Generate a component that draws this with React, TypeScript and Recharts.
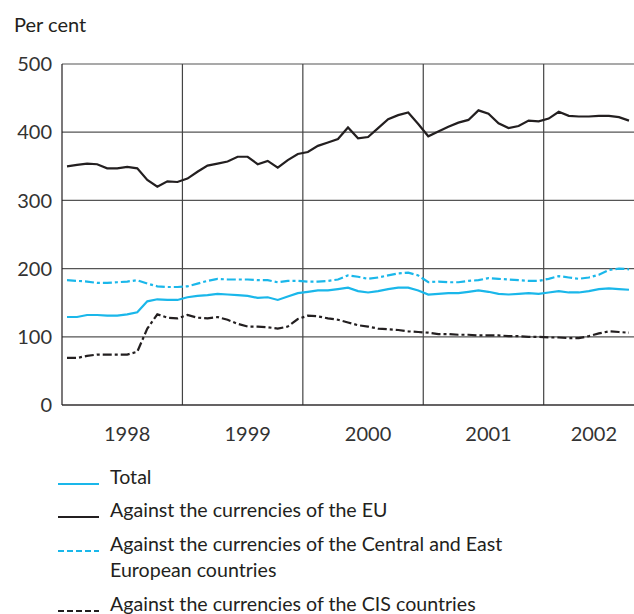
import { LineChart, Line, XAxis, YAxis, CartesianGrid, ReferenceLine } from "recharts"

const years = ["1998", "1999", "2000", "2001", "2002"]
// monthly index values, Jan 1998 - Sep 2002
const total = [
  129, 129, 132, 132, 131, 131, 133, 136, 152, 155, 154, 154,
  158, 160, 161, 163, 162, 161, 160, 157, 158, 154, 159, 164,
  166, 168, 168, 170, 172, 167, 165, 167, 170, 172, 172, 168,
  162, 163, 164, 164, 166, 168, 166, 163, 162, 163, 164, 163,
  165, 167, 165, 165, 167, 170, 171, 170, 169,
]
const eu = [
  350, 352, 354, 353, 347, 347, 349, 347, 330, 320, 328, 327,
  332, 342, 351, 354, 357, 364, 364, 353, 358, 348, 359, 368,
  371, 380, 385, 390, 407, 391, 393, 406, 419, 425, 429, 412,
  394, 401, 408, 414, 418, 432, 427, 413, 406, 409, 417, 416,
  420, 430, 424, 423, 423, 424, 424, 422, 417,
]
const cee = [
  183, 182, 181, 179, 179, 180, 181, 183, 178, 174, 173, 173,
  174, 178, 182, 185, 184, 184, 184, 183, 183, 180, 182, 182,
  181, 181, 182, 184, 190, 188, 185, 187, 190, 193, 194, 190,
  180, 181, 180, 180, 182, 183, 186, 185, 184, 183, 182, 182,
  185, 189, 187, 185, 187, 191, 198, 200, 199,
]
const cis = [
  69, 69, 72, 74, 74, 74, 74, 78, 112, 133, 128, 127,
  132, 128, 127, 129, 125, 119, 115, 115, 114, 112, 115, 126,
  131, 130, 127, 125, 121, 117, 115, 112, 111, 110, 108, 107,
  106, 104, 104, 103, 103, 102, 102, 102, 101, 101, 100, 100,
  99, 99, 98, 98, 101, 105, 108, 107, 106,
]
const yTicks = [0, 100, 200, 300, 400, 500]
const legendItems = [
  { lines: ["Total"], color: "#1ab7ea", dash: undefined },
  { lines: ["Against the currencies of the EU"], color: "#231f20", dash: undefined },
  { lines: ["Against the currencies of the Central and East", "European countries"], color: "#1ab7ea", dash: "6 3" },
  { lines: ["Against the currencies of the CIS countries"], color: "#231f20", dash: "6 3" },
]

const CYAN = "#1ab7ea"
const BLACK = "#231f20"
const FONT = "Lato, 'Open Sans', sans-serif"

const months = total.length
const data = total.map((v, i) => ({ t: i + 0.5, total: v, eu: eu[i], cee: cee[i], cis: cis[i] }))
const yearStarts = years.slice(1).map((_, k) => (k + 1) * 12)
const yearLabelPos = years.map((_, k) => {
  const start = k * 12
  const end = Math.min(start + 12, months)
  return (start + end) / 2 + 0.5
})

export default function App() {
  const rowBaselines = [484, 517, 551, 611]
  return (
    <div style={{ position: "absolute", left: 0, top: 0, width: 634, height: 614, background: "#fff", fontFamily: FONT }}>
      <svg width={634} height={614} style={{ position: "absolute", left: 0, top: 0 }}>
        <text x={14} y={32} fontSize={20} fill="#231f20" fontFamily={FONT}>Per cent</text>
        {legendItems.map((it, i) => (
          <g key={i}>
            <line x1={58} x2={99} y1={rowBaselines[i]} y2={rowBaselines[i]} stroke={it.color} strokeWidth={2} strokeDasharray={it.dash} />
            {it.lines.map((l, j) => (
              <text key={j} x={110} y={rowBaselines[i] + j * 26} fontSize={19.6} fill="#231f20" fontFamily={FONT}>{l}</text>
            ))}
          </g>
        ))}
      </svg>
      <div style={{ position: "absolute", left: 0, top: 0 }}>
        <LineChart width={634} height={450} data={data} margin={{ top: 64, right: 0, bottom: 0, left: 0 }}>
          <CartesianGrid vertical={false} stroke="#555" strokeWidth={1.2} />
          {yearStarts.map((x) => (
            <ReferenceLine key={x} x={x} stroke="#444" strokeWidth={1.2} />
          ))}
          <XAxis
            type="number"
            dataKey="t"
            domain={[0, months]}
            ticks={yearLabelPos}
            interval={0}
            tickFormatter={(_v: number, i: number) => years[i]}
            tickLine={false}
            tickSize={0}
            tickMargin={22}
            height={45}
            axisLine={{ stroke: BLACK, strokeWidth: 1.2 }}
            tick={{ fill: "#333", fontSize: 20, fontFamily: FONT }}
          />
          <YAxis
            domain={[0, 500]}
            ticks={yTicks}
            interval={0}
            tickLine={false}
            tickSize={0}
            tickMargin={10}
            width={62}
            axisLine={{ stroke: BLACK, strokeWidth: 1.2 }}
            tick={{ fill: "#333", fontSize: 20, fontFamily: FONT }}
          />
          <Line dataKey="cis" stroke={BLACK} strokeWidth={2.2} strokeDasharray="9 3 3 3" dot={false} isAnimationActive={false} />
          <Line dataKey="cee" stroke={CYAN} strokeWidth={2.2} strokeDasharray="9 3 3 3" dot={false} isAnimationActive={false} />
          <Line dataKey="total" stroke={CYAN} strokeWidth={2.2} dot={false} isAnimationActive={false} />
          <Line dataKey="eu" stroke={BLACK} strokeWidth={2.2} dot={false} isAnimationActive={false} />
        </LineChart>
      </div>
    </div>
  )
}
